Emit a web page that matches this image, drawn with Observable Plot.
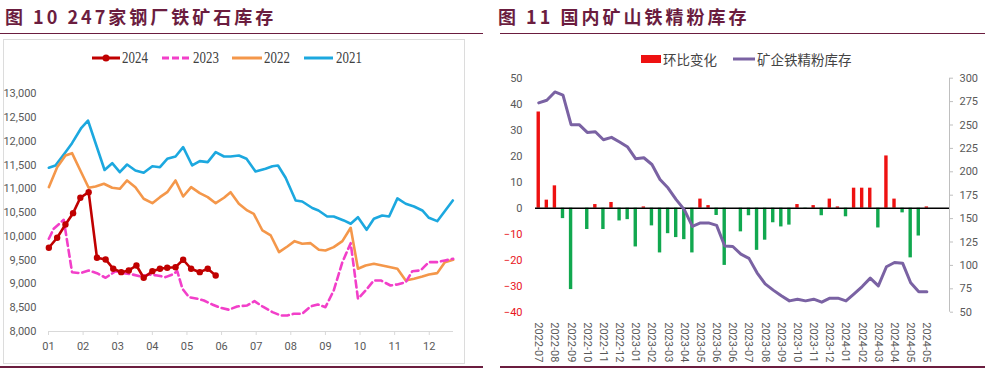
<!DOCTYPE html>
<html><head><meta charset="utf-8">
<script src="https://cdn.jsdelivr.net/npm/d3@7"></script>
<script src="https://cdn.jsdelivr.net/npm/@observablehq/plot@0.6"></script>
<style>
body{margin:0;background:#fff;}
#root{position:relative;width:991px;height:370px;overflow:hidden;font-family:"Noto Sans CJK SC",sans-serif;}
.title{position:absolute;top:3px;font-weight:700;font-size:18px;color:#6b1d3f;letter-spacing:3px;white-space:nowrap;line-height:26px;}
.bar{position:absolute;background:#6b1d3f;}
.frame{position:absolute;left:3px;top:39px;width:462px;height:325px;border:1px solid #dcdcdc;box-sizing:border-box;}
.plot{position:absolute;}
.lg{position:absolute;white-space:nowrap;}
.lgs{position:absolute;}
.lgt{position:absolute;font-family:"Liberation Serif",serif;font-size:17px;color:#404040;transform:scaleX(0.76);transform-origin:0 50%;line-height:20px;}
.lgc{position:absolute;font-family:"Noto Sans CJK SC",sans-serif;font-size:13.5px;color:#444;line-height:20px;}
</style></head><body>
<div id="root">
  <div class="title" style="left:5px;">图 10 247家钢厂铁矿石库存</div>
  <div class="title" style="left:498px;">图 11 国内矿山铁精粉库存</div>
  <div class="bar" style="left:0;top:33px;width:483px;height:1px;"></div>
  <div class="bar" style="left:500px;top:33px;width:485px;height:1px;"></div>
  <div class="frame"></div>
  <div class="bar" style="left:0;top:366px;width:483px;height:2px;"></div>
  <div class="bar" style="left:500px;top:366px;width:485px;height:2px;"></div>
  <div id="left" class="plot" style="left:0;top:40px;"></div>
  <div id="right" class="plot" style="left:495px;top:40px;"></div>

  <svg class="lgs" style="left:0;top:48px;" width="495" height="20">
    <line x1="92" x2="120" y1="10" y2="10" stroke="#c00000" stroke-width="3"/>
    <circle cx="106" cy="10" r="3.5" fill="#c00000"/>
    <line x1="162" x2="190" y1="10" y2="10" stroke="#f23fc9" stroke-width="3" stroke-dasharray="7,3"/>
    <line x1="232" x2="262" y1="10" y2="10" stroke="#f4974a" stroke-width="3"/>
    <line x1="304" x2="333" y1="10" y2="10" stroke="#1ca8df" stroke-width="3"/>
  </svg>
  <div class="lgt" style="left:122px;top:48px;">2024</div>
  <div class="lgt" style="left:193px;top:48px;">2023</div>
  <div class="lgt" style="left:264px;top:48px;">2022</div>
  <div class="lgt" style="left:336px;top:48px;">2021</div>

  <svg class="lgs" style="left:495px;top:49px;" width="496" height="20">
    <rect x="146" y="6" width="20" height="8" fill="#ee1111"/>
    <line x1="238" x2="260" y1="10" y2="10" stroke="#7a62a3" stroke-width="3"/>
  </svg>
  <div class="lgc" style="left:663px;top:49px;">环比变化</div>
  <div class="lgc" style="left:757px;top:49px;">矿企铁精粉库存</div>
</div>
<script>
// ---------- Left chart data (x = month position, 0 = start of Jan) ----------
const monthLabels = ["01","02","03","04","05","06","07","08","09","10","11","12"];
const yTicksLeft = [8000,8500,9000,9500,10000,10500,11000,11500,12000,12500,13000];

const x2021 = [0.01,0.2,0.49,0.68,0.95,1.14,1.62,1.84,2.06,2.27,2.51,2.75,3.0,3.22,3.43,3.67,3.89,4.15,4.37,4.6,4.83,5.07,5.26,5.5,5.72,5.98,6.27,6.47,6.63,6.85,7.14,7.33,7.62,7.8,8.05,8.24,8.53,8.73,8.94,9.19,9.4,9.64,9.84,10.08,10.32,10.56,10.8,10.99,11.23,11.68];
const v2021 = [11444,11492,11772,11961,12285,12438,11397,11540,11351,11513,11387,11339,11477,11456,11633,11681,11877,11492,11583,11562,11772,11681,11681,11702,11633,11366,11423,11477,11492,11233,10756,10735,10598,10546,10420,10420,10336,10266,10405,10140,10371,10441,10420,10800,10687,10630,10546,10392,10321,10756];

const x2022 = [0.01,0.25,0.49,0.68,0.92,1.16,1.36,1.6,1.84,2.06,2.27,2.51,2.75,3.0,3.22,3.43,3.67,3.89,4.12,4.37,4.6,4.83,5.07,5.26,5.5,5.74,5.93,6.18,6.42,6.66,6.9,7.11,7.33,7.57,7.81,8.0,8.24,8.49,8.73,8.94,9.16,9.4,9.64,9.88,10.08,10.32,10.56,10.8,10.99,11.23,11.45,11.69];
const v2022 = [11036,11456,11702,11751,11387,11023,11050,11107,11023,11002,11177,11036,10792,10699,10826,10931,11177,10840,11036,10910,10826,10699,10813,10931,10687,10546,10476,10125,10020,9669,9789,9900,9845,9858,9719,9705,9774,9900,10182,9320,9389,9425,9389,9353,9320,9074,9110,9158,9200,9228,9459,9509];

const x2023 = [0.01,0.15,0.44,0.68,0.92,1.16,1.4,1.65,1.94,2.18,2.42,2.66,2.9,3.14,3.38,3.58,3.72,3.87,4.06,4.3,4.49,4.73,4.97,5.21,5.45,5.74,5.95,6.18,6.47,6.71,6.9,7.09,7.33,7.57,7.78,8.0,8.24,8.49,8.73,8.94,9.16,9.4,9.6,9.88,10.08,10.32,10.51,10.75,10.99,11.23,11.45,11.69];
const v2023 = [9951,10161,10350,9248,9227,9284,9227,9130,9269,9227,9200,9158,9200,9179,9143,9200,9269,8899,8722,8689,8653,8569,8500,8458,8527,8548,8638,8527,8407,8338,8338,8373,8373,8527,8569,8512,8863,9459,9858,8689,8863,9074,9074,8968,8990,9038,9269,9284,9459,9459,9494,9530];

const x2024 = [0.01,0.25,0.49,0.71,0.92,1.16,1.4,1.65,1.87,2.1,2.32,2.54,2.75,3.0,3.22,3.43,3.67,3.89,4.12,4.37,4.6,4.83];
const v2024 = [9761,9972,10251,10489,10813,10931,9551,9516,9320,9248,9284,9389,9130,9269,9320,9341,9353,9509,9320,9248,9320,9179];

// ---------- Right chart data (one entry per period) ----------
const periodTickLabels = ["2022-07","2022-08","2022-09","2022-10","2022-11","2022-12","2023-01","2023-02","2023-03","2023-04","2023-05","2023-06","2023-06","2023-07","2023-08","2023-09","2023-10","2023-11","2023-12","2024-01","2024-02","2024-03","2024-04","2024-05","2024-05"];
const weeklyChange = [37.0,3.1,8.6,-4.0,-31.3,0,-8.2,1.4,-8.2,2.2,-4.9,-4.4,-14.9,0.5,-6.8,-17.2,-9.8,-11.3,-12.1,-17.2,3.5,1.0,-2.8,-22.0,0,-9.1,-2.9,-16.2,-12.3,-5.6,-7.2,-6.5,1.4,-0.5,1.0,-2.9,3.5,0.5,-3.3,7.7,7.7,7.7,-7.6,20.1,3.5,-1.8,-19.1,-10.7,0.5];
const concentrateStock = [273.6,276.4,285.3,282,250.4,250.4,242.1,242.8,234.3,236.8,231.8,226.4,213.9,215,207.8,191.7,182.6,170.3,159.6,141.7,145.4,145.4,142.8,120.8,120.2,112,107.5,92.1,80.3,73.6,67.5,62.1,63.9,62.1,63.9,60.7,65,65,62.1,69.6,77.4,86.4,78.1,98.6,103.1,102.4,81.5,71.9,71.9];
const yTicksChange = [-40,-30,-20,-10,0,10,20,30,40,50];
const yTicksStock = [50,75,100,125,150,175,200,225,250,275,300];

// ---------- Left chart ----------
const rows = (xs, vs) => xs.map((x, i) => ({x, v: vs[i]}));
const numFont = '"Liberation Sans Narrow", Roboto, sans-serif';

const left = Plot.plot({
  width: 470, height: 322,
  marginTop: 53.3, marginBottom: 31, marginLeft: 48, marginRight: 17,
  style: {fontFamily: numFont, fontSize: "11px", color: "#595959", background: "transparent", overflow: "visible"},
  x: {domain: [0, 11.7]},
  y: {domain: [8000, 13000]},
  marks: [
    Plot.ruleY([8000], {stroke: "#d9d9d9", strokeWidth: 1}),
    Plot.axisY({ticks: yTicksLeft, tickSize: 0, tickPadding: 12, tickFormat: d3.format(","), label: null}),
    Plot.axisX({ticks: d3.range(0, 12), tickSize: 4, tickPadding: 7, stroke: "#d9d9d9", tickFormat: i => monthLabels[i], label: null}),
    Plot.line(rows(x2021, v2021), {x: "x", y: "v", stroke: "#1ca8df", strokeWidth: 2.6}),
    Plot.line(rows(x2022, v2022), {x: "x", y: "v", stroke: "#f4974a", strokeWidth: 2.6}),
    Plot.line(rows(x2023, v2023), {x: "x", y: "v", stroke: "#f23fc9", strokeWidth: 2.6, strokeDasharray: "7,4"}),
    Plot.line(rows(x2024, v2024), {x: "x", y: "v", stroke: "#c00000", strokeWidth: 2.6}),
    Plot.dot(rows(x2024, v2024), {x: "x", y: "v", fill: "#c00000", r: 3.2})
  ]
});
document.getElementById("left").appendChild(left);

// ---------- Right chart ----------
const toLeftScale = v => -40 + (v - 50) * 0.36;
const barRows = weeklyChange.map((v, i) => ({i, v}));
const stockRows = concentrateStock.map((v, i) => ({i, v}));
const hw = 0.21;

const right = Plot.plot({
  width: 496, height: 325,
  marginTop: 37.7, marginBottom: 53.3, marginLeft: 40, marginRight: 42,
  style: {fontFamily: numFont, fontSize: "11px", color: "#595959", background: "transparent", overflow: "visible"},
  x: {domain: [-0.4, 50.8]},
  y: {domain: [-40, 50]},
  marks: [
    Plot.rectY(barRows.filter(d => d.v >= 0), {x1: d => d.i - hw, x2: d => d.i + hw, y1: 0, y2: "v", fill: "#ee1111"}),
    Plot.rectY(barRows.filter(d => d.v < 0), {x1: d => d.i - hw, x2: d => d.i + hw, y1: 0, y2: "v", fill: "#11a84f"}),
    Plot.ruleY([0], {stroke: "#000", strokeWidth: 1.5}),
    Plot.ruleX([50.8], {stroke: "#bfbfbf"}),
    Plot.line(stockRows, {x: "i", y: d => toLeftScale(d.v), stroke: "#7a62a3", strokeWidth: 3}),
    Plot.axisY({anchor: "left", ticks: yTicksChange.filter(d => d >= 0), tickSize: 0, tickPadding: 13, label: null}),
    Plot.axisY({anchor: "left", ticks: yTicksChange.filter(d => d < 0), tickSize: 0, tickPadding: 13, fill: "#e8141c", label: null}),
    Plot.axisY({anchor: "right", ticks: yTicksStock.map(toLeftScale), tickFormat: d => String(Math.round((d + 40) / 0.36 + 50)), tickSize: 3, tickPadding: 7, stroke: "#bfbfbf", label: null}),
    Plot.axisX({ticks: d3.range(0, 49, 2), tickFormat: i => periodTickLabels[i / 2], tickRotate: 90, tickSize: 0, tickPadding: 10, label: null})
  ]
});
document.getElementById("right").appendChild(right);
</script>
</body></html>
